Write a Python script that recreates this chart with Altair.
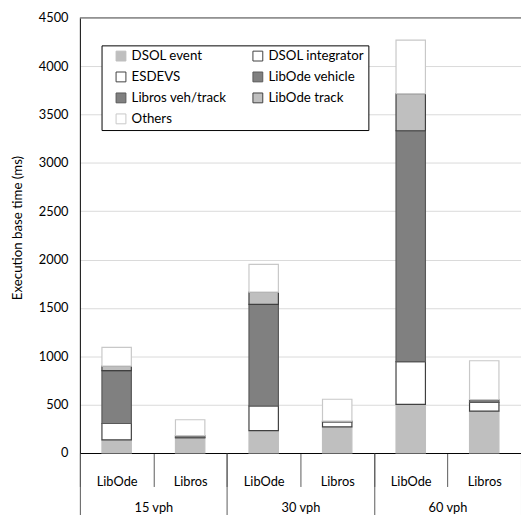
import altair as alt
import pandas as pd

groups = ["15 vph", "30 vph", "60 vph"]
methods = ["LibOde", "Libros"]
series = ["DSOL event", "DSOL integrator", "ESDEVS", "LibOde vehicle",
          "Libros veh/track", "LibOde track", "Others"]
fills = ["#BFBFBF", "#FFFFFF", "#FFFFFF", "#808080", "#808080", "#BFBFBF", "#FFFFFF"]
strokes = ["#BFBFBF", "#404040", "#404040", "#595959", "#595959", "#404040", "#C8C8C8"]
# legend is laid out column by column; this order reads row by row like the original
legend_order = ["DSOL event", "ESDEVS", "Libros veh/track", "Others",
                "DSOL integrator", "LibOde vehicle", "LibOde track"]

# values per series for slots in order: 15 LibOde, 15 Libros, 30 LibOde, 30 Libros, 60 LibOde, 60 Libros
dsol_event = [135, 157, 231, 271, 502, 434]
dsol_integrator = [170, 0, 255, 0, 442, 0]
esdevs = [0, 6, 0, 51, 0, 90]
libode_vehicle = [547, 0, 1051, 0, 2388, 0]
libros_vehtrack = [0, 17, 0, 8, 0, 29]
libode_track = [46, 0, 126, 0, 384, 0]
others = [194, 164, 288, 226, 553, 401]

all_vals = [dsol_event, dsol_integrator, esdevs, libode_vehicle,
            libros_vehtrack, libode_track, others]

slots = [f"{g}|{m}" for g in groups for m in methods]
rows = []
for si, (name, vals) in enumerate(zip(series, all_vals)):
    for slot, v in zip(slots, vals):
        if v > 0:
            rows.append({"slot": slot, "series": name, "value": v, "idx": si})
df = pd.DataFrame(rows)

fill_map = dict(zip(series, fills))
stroke_map = dict(zip(series, strokes))

FONT = "Lato"
legend = alt.Legend(
    title=None, orient="none", legendX=22, legendY=28, columns=2,
    columnPadding=16, rowPadding=6.3, padding=4, symbolOffset=9,
    symbolType="square", symbolSize=100, symbolStrokeWidth=1,
    labelOffset=4, labelFontSize=13.5, labelFont=FONT, labelColor="#000000",
    strokeColor="#000000", fillColor="#FFFFFF",
)

bars = alt.Chart(df).mark_bar(width=alt.RelativeBandSize(0.4), strokeWidth=1.2).encode(
    x=alt.X("slot:N", sort=slots, title=None,
            scale=alt.Scale(paddingInner=0, paddingOuter=0),
            axis=alt.Axis(labelExpr="split(datum.label, '|')[1]", labelAngle=0,
                          tickBand="extent", tickSize=34, tickColor="#595959",
                          domainColor="#000000", labelPadding=-11,
                          labelFont=FONT, labelFontSize=13, labelColor="#000000",
                          orient="bottom")),
    y=alt.Y("value:Q", stack="zero",
            scale=alt.Scale(domain=[0, 4500], nice=False),
            axis=alt.Axis(values=list(range(0, 4501, 500)), format="d",
                          title="Execution base time (ms)",
                          ticks=False, tickSize=0, labelPadding=12,
                          labelFont=FONT, labelFontSize=13, labelColor="#000000",
                          domainColor="#000000", gridColor="#D9D9D9",
                          titleFont=FONT, titleFontSize=13.5, titleFontWeight="normal",
                          titleColor="#000000", titleX=-63, titleY=213,
                          titleBaseline="middle")),
    fill=alt.Fill("series:N",
                  scale=alt.Scale(domain=legend_order,
                                  range=[fill_map[s] for s in legend_order]),
                  legend=legend),
    stroke=alt.Stroke("series:N",
                      scale=alt.Scale(domain=legend_order,
                                      range=[stroke_map[s] for s in legend_order]),
                      legend=legend),
    order=alt.Order("idx:Q", sort="ascending"),
)

top_line = alt.Chart(pd.DataFrame({"top": [4500]})).mark_rule(
    color="#707070", strokeWidth=1.2).encode(y=alt.Y("top:Q"))

gdf = pd.DataFrame({"group": groups})
group_axis = alt.Chart(gdf).mark_point(opacity=0).encode(
    x=alt.X("group:N", sort=groups, title=None,
            scale=alt.Scale(paddingInner=0, paddingOuter=0),
            axis=alt.Axis(orient="bottom", labelAngle=0, domain=False,
                          tickBand="extent", tickSize=67, tickColor="#595959",
                          labelPadding=-18, labelFont=FONT, labelFontSize=13,
                          labelColor="#000000"))
)

chart = alt.layer(bars, top_line, group_axis).resolve_scale(x="independent").properties(
    width=448, height=442,
    autosize=alt.AutoSizeParams(type="none"),
    padding={"left": 73, "top": 6, "right": 0, "bottom": 59},
).configure_view(stroke=None)

chart.save("out.html", embed_options={"renderer": "svg", "actions": False})
